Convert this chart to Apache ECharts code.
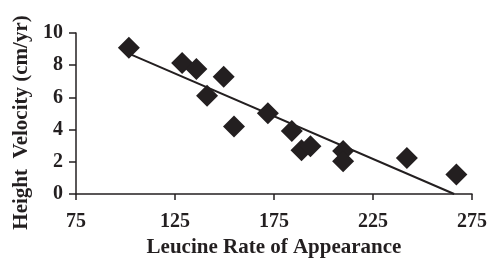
<!DOCTYPE html>
<html lang="en">
<head>
    <meta charset="UTF-8">
    <title>leucine-height-velocity</title>
    <script src="https://cdn.jsdelivr.net/npm/echarts@6/dist/echarts.min.js"></script>
    <style>
        html, body { margin: 0; padding: 0; background: #fff; }
        #main { width: 490px; height: 264px; }
    </style>
</head>
<body>
<div id="main"></div>
<script>
    // 数据点 (Leucine Ra, Height velocity)
    let leucineRa = [101.7, 128.6, 135.8, 149.6, 141.2, 154.8, 171.9, 184, 188.9, 193.4, 209.9, 209.9, 242.1, 267.1];
    let heightVel = [9.09, 8.13, 7.76, 7.28, 6.11, 4.2, 5.02, 3.91, 2.72, 2.96, 2.67, 2.04, 2.24, 1.21];
    // 趋势线两端
    let trendX = [102, 266];
    let trendY = [8.7, 0];

    let ink = '#231f20';
    let font = 'Liberation Serif';

    let points = leucineRa.map((x, i) => [x, heightVel[i]]);
    let trend = trendX.map((x, i) => [x, trendY[i]]);

    let myChart = echarts.init(document.getElementById('main'), null, {renderer: 'canvas'});
    myChart.setOption({
        animation: false,
        grid: {left: 76, top: 33, right: 17, bottom: 70},
        xAxis: {
            type: 'value', min: 75, max: 275, interval: 50,
            name: 'Leucine Rate of Appearance',
            nameLocation: 'middle', nameGap: 38,
            nameTextStyle: {color: ink, fontFamily: font, fontWeight: 'bold', fontSize: 21},
            axisLine: {lineStyle: {color: ink, width: 1.5}},
            axisTick: {show: true, length: 6, lineStyle: {color: ink, width: 1.5}},
            axisLabel: {color: ink, fontFamily: font, fontWeight: 'bold', fontSize: 20, margin: 18},
            splitLine: {show: false}
        },
        yAxis: {
            type: 'value', min: 0, max: 10, interval: 2,
            name: 'Height  Velocity (cm/yr)',
            nameLocation: 'middle', nameGap: 43, nameRotate: 90,
            nameTextStyle: {color: ink, fontFamily: font, fontWeight: 'bold', fontSize: 21, padding: [0, 18, 0, 0]},
            axisLine: {show: true, lineStyle: {color: ink, width: 1.5}},
            axisTick: {show: true, length: 7, lineStyle: {color: ink, width: 1.5}},
            axisLabel: {color: ink, fontFamily: font, fontWeight: 'bold', fontSize: 20, margin: 13},
            splitLine: {show: false}
        },
        series: [
            {
                type: 'line', data: trend, symbol: 'none',
                lineStyle: {color: ink, width: 2}, z: 1
            },
            {
                type: 'scatter', data: points, symbol: 'diamond', symbolSize: 22,
                itemStyle: {color: ink, opacity: 1}, z: 2
            }
        ]
    });
</script>
</body>
</html>
